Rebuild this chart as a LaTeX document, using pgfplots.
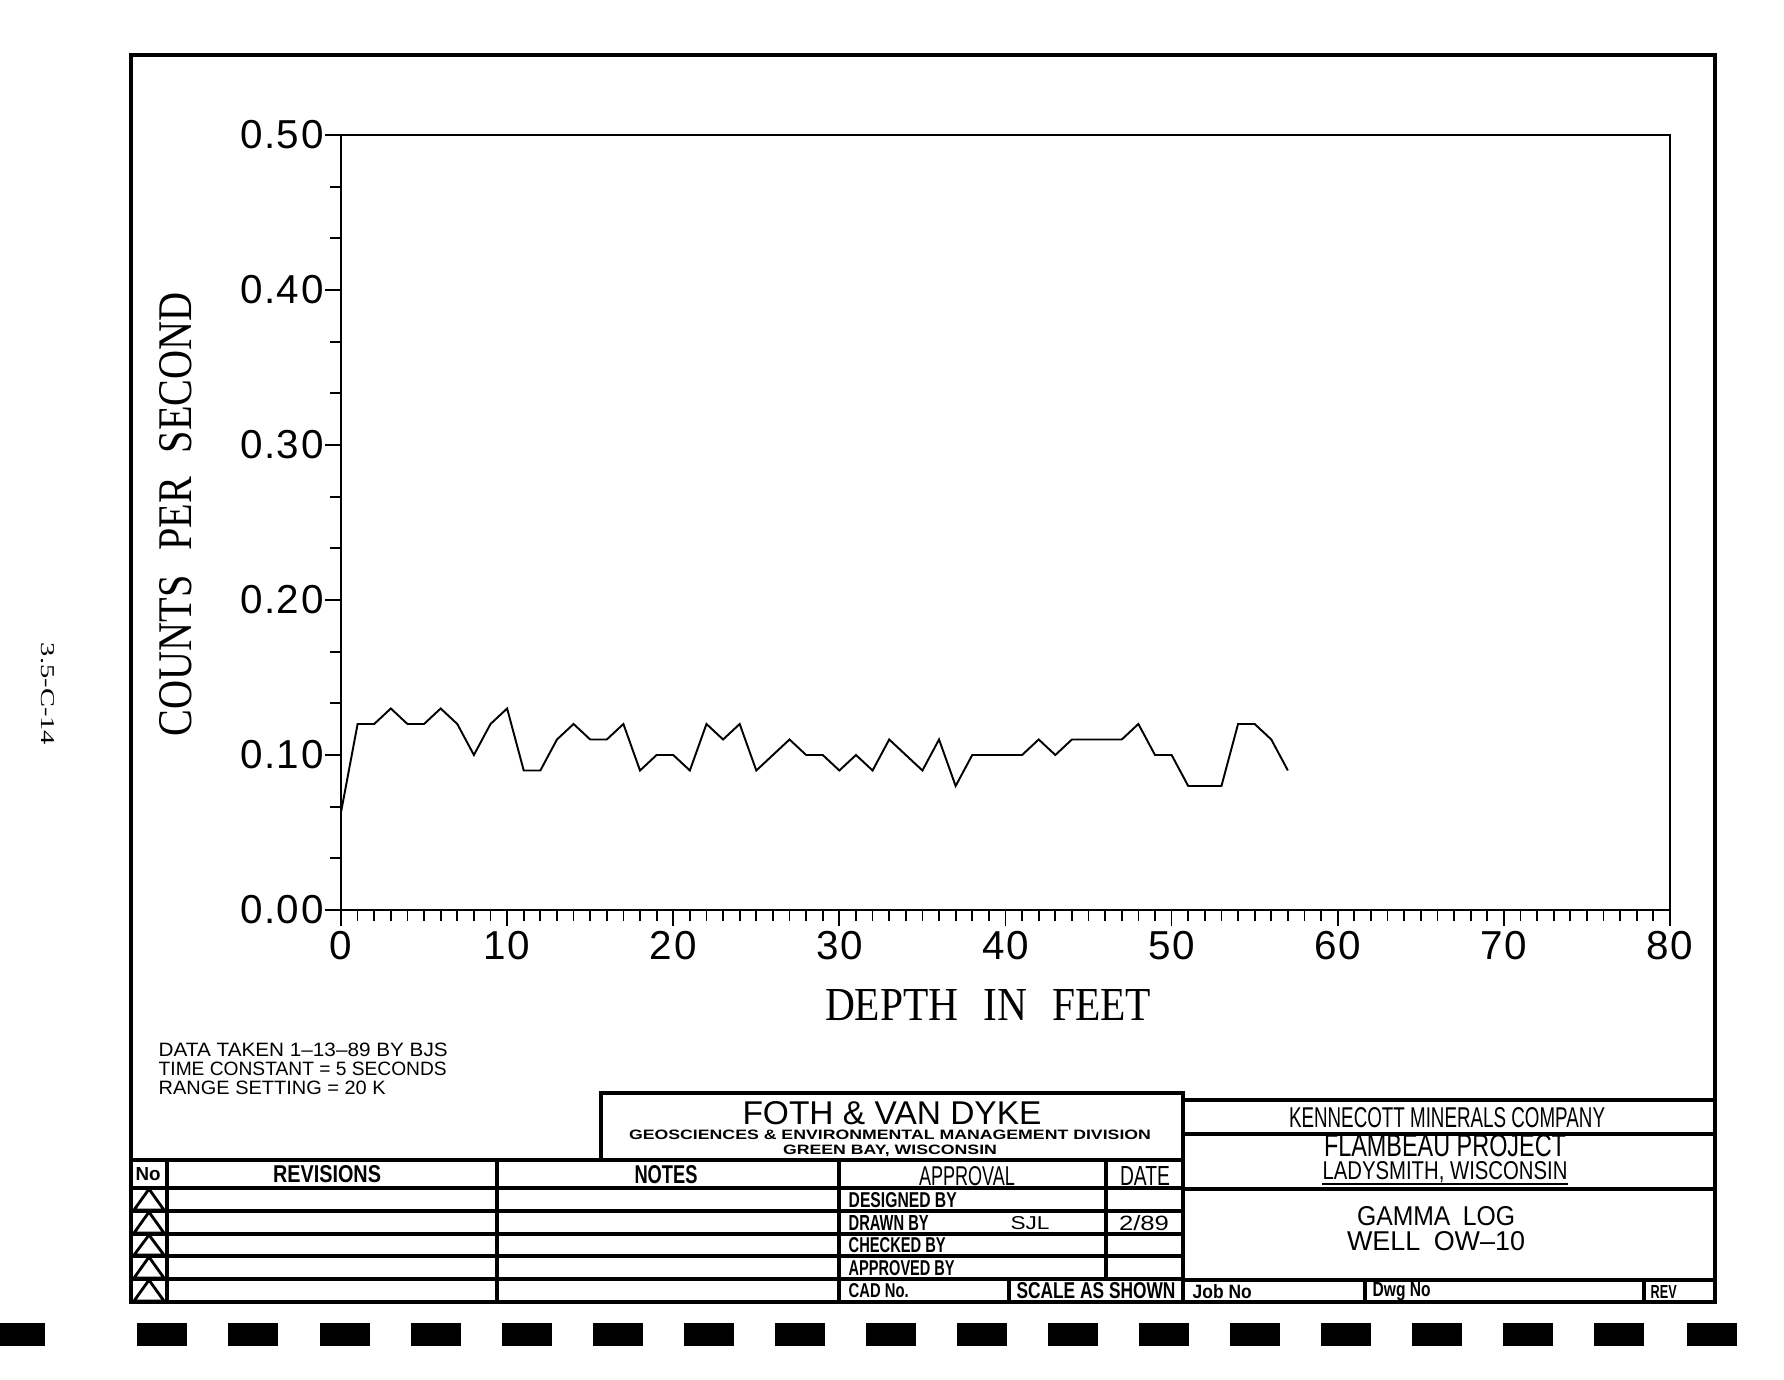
\documentclass[border=0pt]{standalone}
\usepackage{fontspec}
\setmainfont{Liberation Serif}
\setsansfont{Liberation Sans}
\newfontfamily\tickfont[LetterSpace=4]{Liberation Sans}
\usepackage{graphicx}
\usepackage{pgfplots}
\pgfplotsset{compat=1.18}
\newcommand\ctb[3]{\resizebox{#1mm}{#2mm}{\sffamily\bfseries #3}}
\newcommand\ctr[3]{\resizebox{#1mm}{#2mm}{\sffamily #3}}
\newcommand\cts[3]{\resizebox{#1mm}{#2mm}{\rmfamily #3}}
\begin{document}
\begin{tikzpicture}
\fill[white] (0,0) rectangle (178.4mm,138mm);
\path[use as bounding box] (0,0) rectangle (178.4mm,138mm);
\begin{axis}[
  at={(34.1mm,47mm)}, anchor=south west,
  width=132.9mm, height=77.5mm, scale only axis,
  xmin=0, xmax=80, ymin=0, ymax=0.5,
  xtick={0,10,20,30,40,50,60,70,80},
  ytick={0,0.1,0.2,0.3,0.4,0.5},
  minor x tick num=9, minor y tick num=2,
  tick align=outside, tick pos=left,
  major tick length=1.6mm, minor tick length=1.1mm,
  axis line style={line width=0.6pt},
  every tick/.style={black, line width=0.5pt},
  /pgf/number format/assume math mode=true,
  y tick label style={xshift=1.1mm, /pgf/number format/.cd, fixed, fixed zerofill, precision=2},
  x tick label style={yshift=0.7mm},
  tick label style={font=\tickfont\fontsize{11.5}{12}\selectfont},
]
\addplot[black, line width=0.55pt] coordinates {
(0,0.063) (1,0.12) (2,0.12) (3,0.13) (4,0.12) (5,0.12) (6,0.13) (7,0.12) (8,0.10) (9,0.12)
(10,0.13) (11,0.09) (12,0.09) (13,0.11) (14,0.12) (15,0.11) (16,0.11) (17,0.12) (18,0.09) (19,0.10)
(20,0.10) (21,0.09) (22,0.12) (23,0.11) (24,0.12) (25,0.09) (26,0.10) (27,0.11) (28,0.10) (29,0.10)
(30,0.09) (31,0.10) (32,0.09) (33,0.11) (34,0.10) (35,0.09) (36,0.11) (37,0.08) (38,0.10) (39,0.10)
(40,0.10) (41,0.10) (42,0.11) (43,0.10) (44,0.11) (45,0.11) (46,0.11) (47,0.11) (48,0.12) (49,0.10)
(50,0.10) (51,0.08) (52,0.08) (53,0.08) (54,0.12) (55,0.12) (56,0.11) (57,0.09)
};
\end{axis}
\begin{scope}[yshift=138mm, x=0.1mm, y=-0.1mm]
% axis titles
\node[inner sep=0] at (176,514) {\rotatebox{90}{\cts{44.4}{3.2}{COUNTS\hspace{0.6em}PER\hspace{0.6em}SECOND}}};
\node[inner sep=0] at (988,1005) {\cts{32.6}{3.1}{DEPTH\hspace{0.6em}IN\hspace{0.6em}FEET}};
% side note
\node[inner sep=0] at (48,694) {\rotatebox{-90}{\cts{10.2}{1.3}{3.5-C-14}}};
% data notes
\node[inner sep=0, anchor=west] at (158,1050) {\ctr{28.9}{1.35}{DATA TAKEN 1–13–89 BY BJS}};
\node[inner sep=0, anchor=west] at (158,1069) {\ctr{28.8}{1.35}{TIME CONSTANT = 5 SECONDS}};
\node[inner sep=0, anchor=west] at (158,1088) {\ctr{22.7}{1.35}{RANGE SETTING = 20 K}};
% frame
\draw[line width=0.9pt] (131,55) rectangle (1715,1302);
% FOTH box
\draw[line width=0.9pt] (601,1160) -- (601,1093) -- (1183,1093) -- (1183,1302);
% revision / approval table
\draw[line width=0.9pt] (131,1160) -- (1183,1160);
\draw[line width=0.9pt] (131,1188) -- (1183,1188);
\foreach \yy in {1211,1234,1256,1279} \draw[line width=0.9pt] (131,\yy) -- (1183,\yy);
\foreach \xx in {167,497,839} \draw[line width=0.9pt] (\xx,1160) -- (\xx,1302);
\draw[line width=0.9pt] (1106,1160) -- (1106,1279);
\draw[line width=0.9pt] (1009,1279) -- (1009,1302);
% triangles
\foreach \ya/\yb in {1188/1211,1211/1234,1234/1256,1256/1279,1279/1302}
  \draw[line width=0.8pt] (134,\yb-1) -- (149,\ya+1) -- (164,\yb-1) -- cycle;
% Kennecott block
\draw[line width=0.9pt] (1183,1100) -- (1715,1100);
\draw[line width=0.9pt] (1183,1134) -- (1715,1134);
\draw[line width=0.9pt] (1183,1189) -- (1715,1189);
\draw[line width=0.9pt] (1183,1280) -- (1715,1280);
\draw[line width=0.9pt] (1365,1280) -- (1365,1302);
\draw[line width=0.9pt] (1644,1280) -- (1644,1302);
\draw[line width=0.7pt] (1322,1184) -- (1568,1184);
% title block texts
\node[inner sep=0] at (148,1174) {\ctb{2.5}{1.3}{No}};
\node[inner sep=0] at (327,1174) {\ctb{10.8}{1.7}{REVISIONS}};
\node[inner sep=0] at (666,1175) {\ctb{6.3}{1.8}{NOTES}};
\node[inner sep=0] at (967,1176) {\ctr{9.6}{1.9}{APPROVAL}};
\node[inner sep=0] at (1145,1176) {\ctr{5.0}{1.9}{DATE}};
\node[inner sep=0, anchor=west] at (848,1200) {\ctb{10.8}{1.5}{DESIGNED BY}};
\node[inner sep=0, anchor=west] at (848,1223) {\ctb{8.0}{1.5}{DRAWN BY}};
\node[inner sep=0] at (1030,1223) {\ctr{3.9}{1.3}{SJL}};
\node[inner sep=0] at (1144,1223) {\ctr{5.0}{1.5}{2/89}};
\node[inner sep=0, anchor=west] at (848,1245) {\ctb{9.7}{1.5}{CHECKED BY}};
\node[inner sep=0, anchor=west] at (848,1268) {\ctb{10.6}{1.5}{APPROVED BY}};
\node[inner sep=0, anchor=west] at (848,1291) {\ctb{6.0}{1.4}{CAD No.}};
\node[inner sep=0] at (1096,1291) {\ctb{15.9}{1.6}{SCALE AS SHOWN}};
\node[inner sep=0] at (892,1113) {\ctr{29.9}{2.3}{FOTH \& VAN DYKE}};
\node[inner sep=0] at (890,1135) {\ctb{52.2}{0.95}{GEOSCIENCES \& ENVIRONMENTAL MANAGEMENT DIVISION}};
\node[inner sep=0] at (890,1151) {\ctb{21.4}{0.95}{GREEN BAY, WISCONSIN}};
\node[inner sep=0] at (1447,1118) {\ctr{31.6}{2.0}{KENNECOTT MINERALS COMPANY}};
\node[inner sep=0] at (1445,1146) {\ctr{24.2}{2.2}{FLAMBEAU PROJECT}};
\node[inner sep=0] at (1445,1172) {\ctr{24.5}{1.8}{LADYSMITH, WISCONSIN}};
\node[inner sep=0] at (1436,1216) {\ctr{15.8}{1.9}{GAMMA\hspace{0.5em}LOG}};
\node[inner sep=0] at (1436,1241) {\ctr{17.8}{1.9}{WELL\hspace{0.5em}OW–10}};
\node[inner sep=0, anchor=west] at (1192,1292) {\ctb{5.9}{1.4}{Job No}};
\node[inner sep=0, anchor=west] at (1372,1292) {\ctb{5.8}{1.4}{Dwg No}};
\node[inner sep=0, anchor=west] at (1650,1292) {\ctb{2.6}{1.3}{REV}};
% punched dashes
\fill[black] (0,1323) rectangle (45,1346);
\foreach \cx in {162,253,345,436,527,618,709,800,891,982,1073,1164,1255,1346,1437,1528,1619,1712}
  \fill[black] (\cx-25,1323) rectangle (\cx+25,1346);
\end{scope}
\end{tikzpicture}
\end{document}
